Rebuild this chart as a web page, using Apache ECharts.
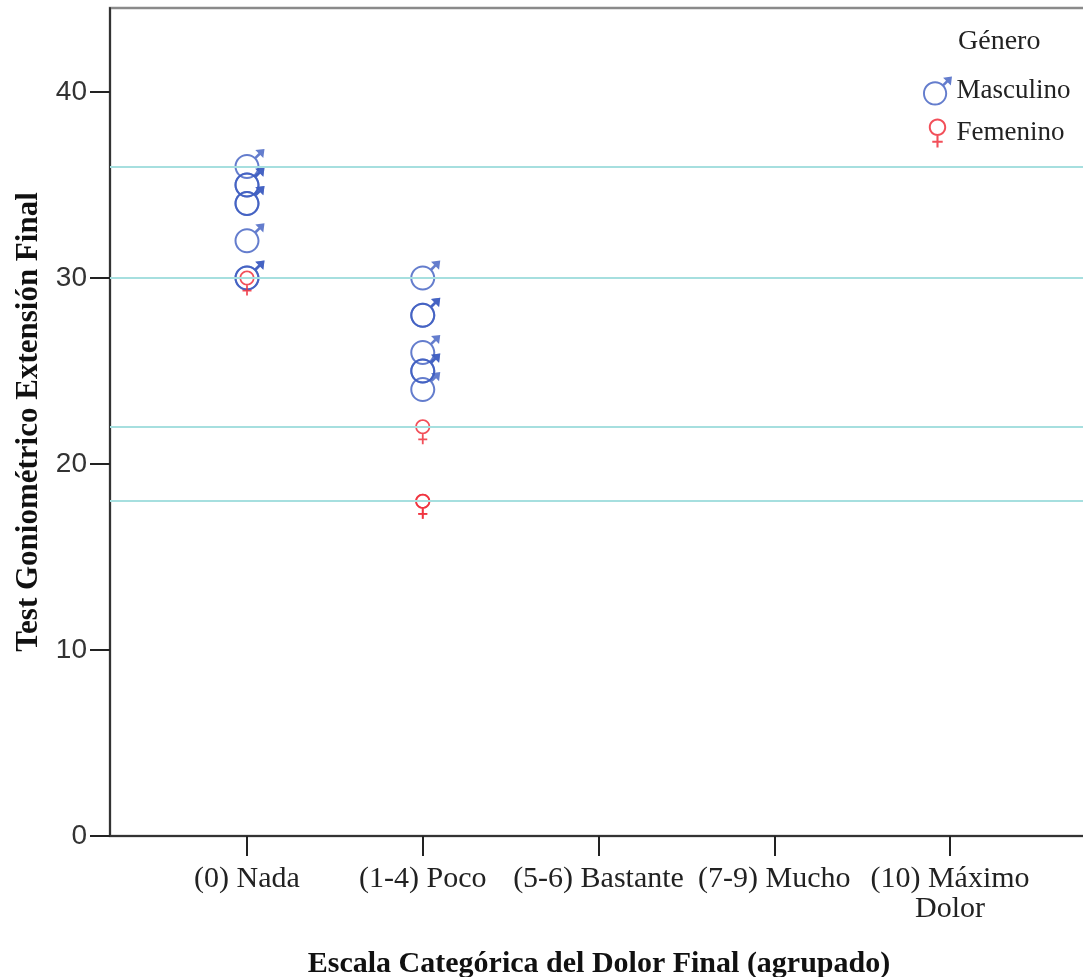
<!DOCTYPE html>
<html>
<head>
<meta charset="utf-8">
<script src="https://cdn.jsdelivr.net/npm/echarts@6/dist/echarts.min.js"></script>
<style>
  html, body { margin: 0; padding: 0; background: #fff; }
  #container { width: 1083px; height: 977px; }
</style>
</head>
<body>
<div id="container"></div>
<script>
// data
const categories = ["(0) Nada", "(1-4) Poco", "(5-6) Bastante", "(7-9) Mucho", "(10) Máximo\nDolor"];
const catTicks = [0, 1, 2, 3, 4];
const yTicks = [0, 10, 20, 30, 40];
const maleCat = [0, 0, 0, 0, 0, 0, 0, 0, 1, 1, 1, 1, 1, 1, 1];
const maleVal = [36, 35, 35, 34, 34, 32, 30, 30, 30, 28, 28, 26, 25, 25, 24];
const femaleCat = [0, 1, 1, 1];
const femaleVal = [30, 22, 18, 18];
const refLines = [36, 30, 22, 18];

// function: circle as bezier curves (cw = clockwise on screen)
function circle(cx, cy, r, cw) {
  const k = 0.5523 * r;
  if (cw)
    return (
      "M" + (cx - r) + " " + cy +
      " C" + (cx - r) + " " + (cy - k) + " " + (cx - k) + " " + (cy - r) + " " + cx + " " + (cy - r) +
      " C" + (cx + k) + " " + (cy - r) + " " + (cx + r) + " " + (cy - k) + " " + (cx + r) + " " + cy +
      " C" + (cx + r) + " " + (cy + k) + " " + (cx + k) + " " + (cy + r) + " " + cx + " " + (cy + r) +
      " C" + (cx - k) + " " + (cy + r) + " " + (cx - r) + " " + (cy + k) + " " + (cx - r) + " " + cy + " Z "
    );
  return (
    "M" + (cx - r) + " " + cy +
    " C" + (cx - r) + " " + (cy + k) + " " + (cx - k) + " " + (cy + r) + " " + cx + " " + (cy + r) +
    " C" + (cx + k) + " " + (cy + r) + " " + (cx + r) + " " + (cy + k) + " " + (cx + r) + " " + cy +
    " C" + (cx + r) + " " + (cy - k) + " " + (cx + k) + " " + (cy - r) + " " + cx + " " + (cy - r) +
    " C" + (cx - k) + " " + (cy - r) + " " + (cx - r) + " " + (cy - k) + " " + (cx - r) + " " + cy + " Z "
  );
}

// function: symbol paths (male / female sign), both with a square bounding box
const malePath =
  "path://" +
  circle(12.5, 17.5, 12.5, true) +
  circle(12.5, 17.5, 10.5, false) +
  "M19.36 8.8 L25.72 2.44 L27.56 4.28 L21.2 10.64 Z " +
  "M30 0 L28.8 9.2 L20.8 1.2 Z";
const femalePath =
  "path://M-5 0 L-5 0 Z M20 25 L20 25 Z " +
  circle(7.5, 7.5, 7.5, true) +
  circle(7.5, 7.5, 5.8, false) +
  "M6.6 14.5 L8.4 14.5 L8.4 25 L6.6 25 Z " +
  "M3 19.2 L12 19.2 L12 21 L3 21 Z";

function toPoints(cats, vals) {
  let pts = [];
  for (let i = 0; i < vals.length; i++) pts.push([cats[i], vals[i]]);
  return pts;
}

function echartSetup(container) {
  let myChart = echarts.init(document.getElementById(container)),
    serif = "Liberation Serif",
    option;

  option = {
    backgroundColor: "#ffffff",
    animation: false,
    title: {
      text: "Género",
      left: 953,
      top: 23,
      textStyle: {
        fontFamily: serif,
        fontSize: 28,
        fontWeight: "normal",
        color: "#222"
      }
    },
    legend: {
      orient: "vertical",
      left: 918,
      top: 71,
      itemWidth: 32,
      itemHeight: 29,
      itemGap: 12,
      data: ["Masculino", "Femenino"],
      textStyle: {
        fontFamily: serif,
        fontSize: 27,
        lineHeight: 30,
        color: "#222",
        padding: [0, 0, 0, -2]
      }
    },
    grid: {
      left: 110,
      top: 8,
      width: 978,
      height: 828,
      outerBoundsMode: "none",
      containLabel: false,
      show: true,
      borderColor: "#8a8a8a",
      borderWidth: 2.5
    },
    xAxis: {
      type: "value",
      min: -0.7795,
      max: 4.785,
      splitLine: { show: false },
      axisLine: { lineStyle: { color: "#333", width: 2 } },
      axisTick: {
        customValues: catTicks,
        length: 20,
        lineStyle: { color: "#222", width: 2 }
      },
      axisLabel: {
        customValues: catTicks,
        margin: 28,
        fontFamily: serif,
        fontSize: 30,
        lineHeight: 30,
        color: "#222",
        formatter: function (v) {
          return categories[Math.round(v)];
        }
      },
      name: "Escala Categórica del Dolor Final (agrupado)",
      nameLocation: "middle",
      nameGap: 113,
      nameTextStyle: {
        fontFamily: serif,
        fontSize: 30,
        fontWeight: "bold",
        color: "#111"
      }
    },
    yAxis: {
      type: "value",
      min: 0,
      max: 44.516,
      splitLine: { show: false },
      axisLine: { onZero: false, lineStyle: { color: "#333", width: 2 } },
      axisTick: {
        customValues: yTicks,
        length: 20,
        lineStyle: { color: "#222", width: 2 }
      },
      axisLabel: {
        customValues: yTicks,
        margin: 23,
        fontFamily: "Liberation Sans",
        fontSize: 28,
        color: "#333"
      },
      name: "Test Goniométrico Extensión Final",
      nameLocation: "middle",
      nameRotate: 90,
      nameGap: 65,
      nameTextStyle: {
        fontFamily: serif,
        fontSize: 31,
        fontWeight: "bold",
        color: "#111"
      }
    },
    series: [
      {
        name: "ref",
        type: "line",
        data: [],
        silent: true,
        z: 1,
        markLine: {
          silent: true,
          symbol: "none",
          label: { show: false },
          lineStyle: { color: "#a6dfdf", width: 2, type: "solid" },
          data: refLines.map(function (v) {
            return { yAxis: v };
          })
        }
      },
      {
        name: "Masculino",
        type: "scatter",
        z: 3,
        symbol: malePath,
        symbolSize: 30,
        symbolOffset: [2.5, -2.5],
        symbolKeepAspect: true,
        itemStyle: { color: "#3d5cc0", opacity: 0.8 },
        data: toPoints(maleCat, maleVal)
      },
      {
        name: "Femenino",
        type: "scatter",
        z: 4,
        symbol: femalePath,
        symbolSize: 25,
        symbolOffset: [0, 5],
        symbolKeepAspect: true,
        itemStyle: { color: "#f0303c", opacity: 0.85 },
        data: toPoints(femaleCat, femaleVal)
      }
    ]
  };

  if (option && typeof option === "object") {
    myChart.setOption(option);
  }
  window.addEventListener("resize", myChart.resize);
}

echartSetup("container");
</script>
</body>
</html>
